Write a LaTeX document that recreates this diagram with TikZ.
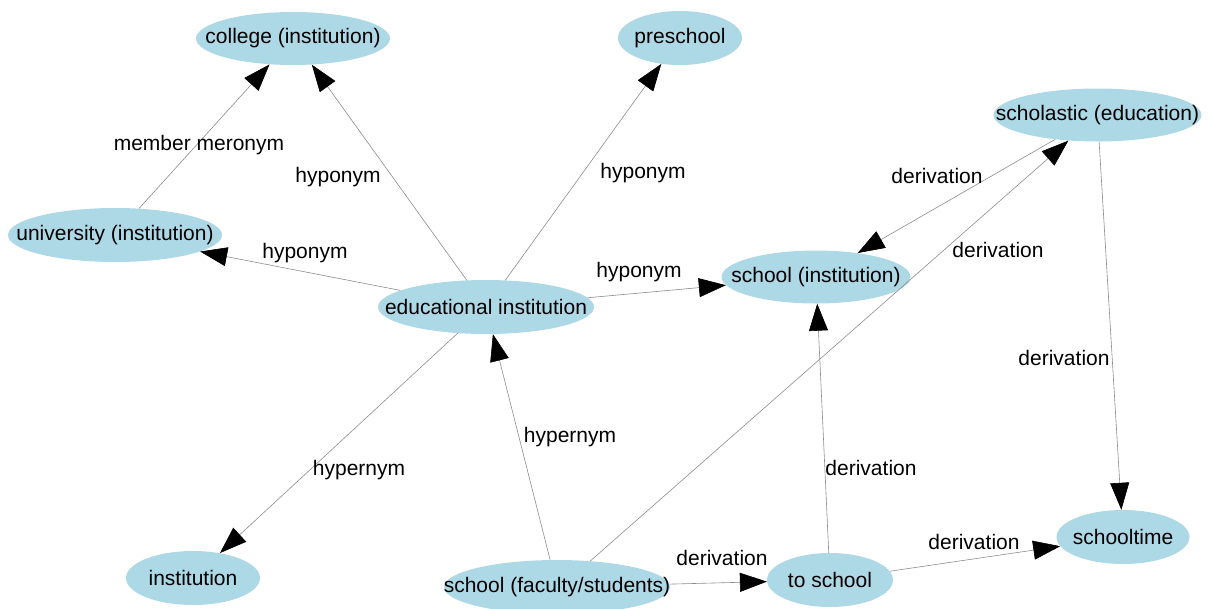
\documentclass[tikz,border=0pt]{standalone}
\usepackage{fontspec}
\setmainfont{Liberation Sans}
\usetikzlibrary{arrows.meta,shapes.geometric}
\definecolor{nodeblue}{RGB}{173,216,230}
\definecolor{edgegray}{RGB}{140,140,140}
\tikzset{
  ell/.style={ellipse, fill=nodeblue, draw=none, inner sep=0pt},
  txt/.style={font=\fontsize{21}{24}\selectfont, text=black, inner sep=0pt},
  edge/.style={draw=edgegray, line width=0.6pt, -{Triangle[length=27pt,width=19pt,color=black,fill=black]}},
  lbl/.style={font=\fontsize{21}{24}\selectfont, text=black, inner sep=0pt}
}
\newcommand{\ellnode}[6]{\node[ell, minimum width=#4pt, minimum height=#5pt, label={[txt]center:#6}] (#1) at (#2,#3) {};}
\begin{document}
\begin{tikzpicture}[x=1pt,y=-1pt]
\useasboundingbox (0,0) rectangle (1213,608);
\ellnode{college}{293}{38.5}{194}{53}{college (institution)}
\ellnode{preschool}{680}{38}{124}{54}{preschool}
\ellnode{scholastic}{1097.5}{115}{208}{53}{scholastic (education)}
\ellnode{university}{115}{235}{214}{54}{university (institution)}
\ellnode{schoolinst}{816}{277}{189}{53}{school (institution)}
\ellnode{edu}{486}{307}{216}{54}{educational institution}
\ellnode{institution}{193}{578}{134}{54}{institution}
\ellnode{faculty}{557}{587}{226}{54}{school (faculty/students)}
\ellnode{toschool}{830}{580}{126}{54}{to school}
\ellnode{schooltime}{1123}{537}{133}{54}{schooltime}

\draw[edge] (university) -- (college);
\draw[edge] (edu) -- (college);
\draw[edge] (edu) -- (preschool);
\draw[edge] (edu) -- (university);
\draw[edge] (edu) -- (schoolinst);
\draw[edge] (edu) -- (institution);
\draw[edge] (faculty) -- (edu);
\draw[edge] (faculty.38) -- (scholastic);
\draw[edge] (faculty) -- (toschool);
\draw[edge] (toschool) -- (schoolinst);
\draw[edge] (toschool) -- (schooltime);
\draw[edge] (scholastic) -- (schoolinst);
\draw[edge] (scholastic) -- (schooltime);

\node[lbl] (l1) at (199,145) {member meronym};
\node[lbl] (l2) at (338,177) {hyponym};
\node[lbl] (l3) at (643,173) {hyponym};
\node[lbl] (l4) at (305,253) {hyponym};
\node[lbl] (l5) at (639,272) {hyponym};
\node[lbl] (l6) at (359,470) {hypernym};
\node[lbl] (l7) at (570,437) {hypernym};
\node[lbl] (l8) at (998,250) {derivation};
\node[lbl] (l9) at (722,558) {derivation};
\node[lbl] (l10) at (871,468) {derivation};
\node[lbl] (l11) at (974,542) {derivation};
\node[lbl] (l12) at (937,176) {derivation};
\node[lbl] (l13) at (1064,358) {derivation};
\end{tikzpicture}
\end{document}
